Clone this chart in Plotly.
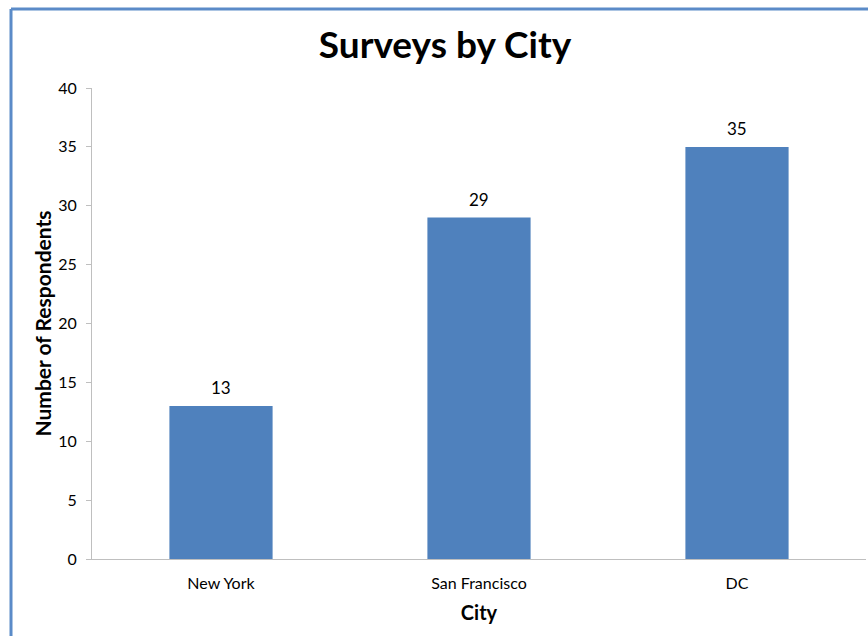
import plotly.graph_objects as go

cities = ["New York", "San Francisco", "DC"]
respondents = [13, 29, 35]
y_ticks = [0, 5, 10, 15, 20, 25, 30, 35, 40]

W, H = 868, 636
L, R, T, B = 92, 2, 88, 77
pw, ph = W - L - R, H - T - B

def px_x(x):
    return (x - L) / pw

def px_y(y):
    return (H - B - y) / ph

font = "Lato, Open Sans, sans-serif"

fig = go.Figure(
    go.Bar(
        x=cities,
        y=respondents,
        marker=dict(color="#4F81BD", line=dict(width=0)),
        cliponaxis=False,
    )
)

# value labels above each bar
for c, v in zip(cities, respondents):
    fig.add_annotation(
        x=c, y=v, text=str(v), showarrow=False,
        yanchor="bottom", yshift=6,
        font=dict(family=font, size=17, color="#000000"),
    )

fig.update_layout(
    width=W,
    height=H,
    margin=dict(l=L, r=R, t=T, b=B),
    paper_bgcolor="white",
    plot_bgcolor="white",
    bargap=0.6,
    showlegend=False,
    title=dict(
        text="<b>Surveys by City</b>",
        x=445 / W,
        xanchor="center",
        y=1 - 45 / H,
        yanchor="middle",
        font=dict(family=font, size=37, color="#000000"),
    ),
    font=dict(family=font, color="#000000"),
)

fig.update_xaxes(
    showline=True,
    linecolor="#BFBFBF",
    linewidth=1,
    showgrid=False,
    ticks="",
    ticklabelstandoff=10,
    tickfont=dict(family=font, size=16, color="#000000"),
    title=dict(text="<b>City</b>", font=dict(family=font, size=20, color="#000000"), standoff=14),
)

fig.update_yaxes(
    range=[0, 40],
    tickvals=y_ticks,
    showline=True,
    linecolor="#BFBFBF",
    linewidth=1,
    showgrid=False,
    ticks="outside",
    ticklen=5,
    tickcolor="#BFBFBF",
    ticklabelstandoff=6,
    tickfont=dict(family=font, size=16, color="#000000"),
    title=dict(text="<b>Number of Respondents</b>", font=dict(family=font, size=21, color="#000000"), standoff=0),
    zeroline=False,
)

# chart-area frame along the left and top edges
fig.add_shape(
    type="line", xref="paper", yref="paper",
    x0=px_x(11), x1=px_x(11), y0=px_y(9), y1=px_y(H + 5),
    line=dict(color="#5B8BC8", width=3),
)
fig.add_shape(
    type="line", xref="paper", yref="paper",
    x0=px_x(11), x1=px_x(W + 5), y0=px_y(9), y1=px_y(9),
    line=dict(color="#5B8BC8", width=3),
)

fig.write_html("out.html")
